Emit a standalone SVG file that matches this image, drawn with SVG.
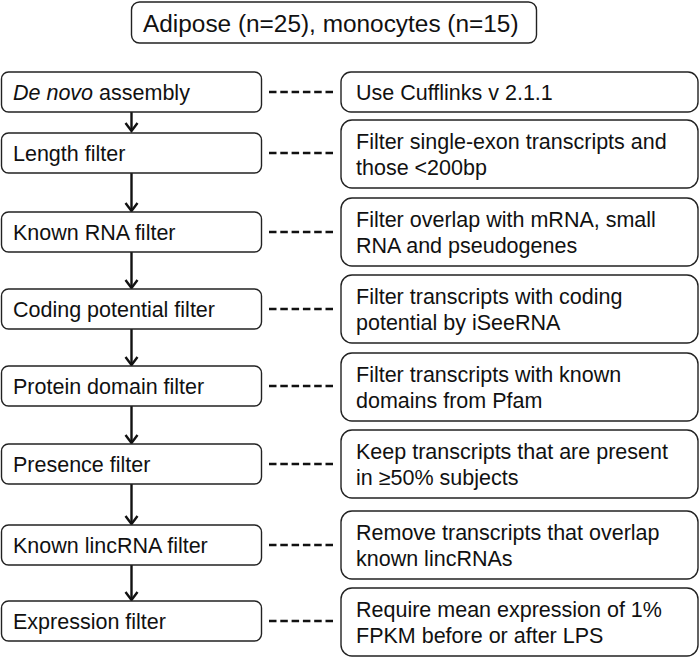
<svg xmlns="http://www.w3.org/2000/svg" width="700" height="658" viewBox="0 0 700 658">
<defs>
<style>
.bx{fill:#fff;stroke:#222;stroke-width:1.4}
.t{font-family:"Liberation Sans",Arial,sans-serif;font-size:21.5px;fill:#111}
.tt{font-family:"Liberation Sans",Arial,sans-serif;font-size:24.4px;fill:#111}
.ar{stroke:#111;stroke-width:2.4;fill:none}
.da{stroke:#111;stroke-width:2.6;stroke-dasharray:7.5 3.8;fill:none}
</style>
<marker id="ah" markerUnits="userSpaceOnUse" markerWidth="12" markerHeight="14" refX="9" refY="7" orient="auto" overflow="visible">
<path d="M1,1 L9,7 L1,13" fill="none" stroke="#111" stroke-width="2.4"/>
</marker>
</defs>
<rect width="700" height="658" fill="#fff"/>

<g id="connectors">
<path class="ar" d="M131.5,112 V131" marker-end="url(#ah)"/>
<path class="ar" d="M131.5,173 V211" marker-end="url(#ah)"/>
<path class="ar" d="M131.5,252 V288" marker-end="url(#ah)"/>
<path class="ar" d="M131.5,329 V365" marker-end="url(#ah)"/>
<path class="ar" d="M131.5,406 V443" marker-end="url(#ah)"/>
<path class="ar" d="M131.5,484 V524" marker-end="url(#ah)"/>
<path class="ar" d="M131.5,565 V600" marker-end="url(#ah)"/>
<path class="da" d="M269,92 H333"/>
<path class="da" d="M269,153 H333"/>
<path class="da" d="M269,232 H333"/>
<path class="da" d="M269,309 H333"/>
<path class="da" d="M269,386 H333"/>
<path class="da" d="M269,464 H333"/>
<path class="da" d="M269,545 H333"/>
<path class="da" d="M269,621 H333"/>
</g>

<g id="top">
<rect class="bx" x="131.5" y="2" width="405" height="41" rx="8"/>
<text class="tt" x="143" y="31.5">Adipose (n=25), monocytes (n=15)</text>
</g>

<g id="s1"><rect class="bx" x="1.5" y="72" width="260" height="40" rx="7"/><text class="t" x="13" y="99.7"><tspan font-style="italic">De novo</tspan> assembly</text></g>
<g id="s2"><rect class="bx" x="1.5" y="133" width="260" height="40" rx="7"/><text class="t" x="13" y="160.7">Length filter</text></g>
<g id="s3"><rect class="bx" x="1.5" y="212" width="260" height="40" rx="7"/><text class="t" x="13" y="239.7">Known RNA filter</text></g>
<g id="s4"><rect class="bx" x="1.5" y="289" width="260" height="40" rx="7"/><text class="t" x="13" y="316.7">Coding potential filter</text></g>
<g id="s5"><rect class="bx" x="1.5" y="366" width="260" height="40" rx="7"/><text class="t" x="13" y="393.7">Protein domain filter</text></g>
<g id="s6"><rect class="bx" x="1.5" y="444" width="260" height="40" rx="7"/><text class="t" x="13" y="471.7">Presence filter</text></g>
<g id="s7"><rect class="bx" x="1.5" y="525" width="260" height="40" rx="7"/><text class="t" x="13" y="552.7">Known lincRNA filter</text></g>
<g id="s8"><rect class="bx" x="1.5" y="601" width="260" height="40" rx="7"/><text class="t" x="13" y="628.7">Expression filter</text></g>

<g id="d1"><rect class="bx" x="341" y="72" width="357" height="40" rx="10"/><text class="t" x="356" y="99.7">Use Cufflinks v 2.1.1</text></g>
<g id="d2"><rect class="bx" x="341" y="120" width="357" height="68" rx="11"/><text class="t" x="356" y="149">Filter single-exon transcripts and</text><text class="t" x="356" y="174.6">those &lt;200bp</text></g>
<g id="d3"><rect class="bx" x="341" y="198" width="357" height="68" rx="11"/><text class="t" x="356" y="227">Filter overlap with mRNA, small</text><text class="t" x="356" y="252.6">RNA and pseudogenes</text></g>
<g id="d4"><rect class="bx" x="341" y="275" width="357" height="68" rx="11"/><text class="t" x="356" y="304">Filter transcripts with coding</text><text class="t" x="356" y="329.6">potential by iSeeRNA</text></g>
<g id="d5"><rect class="bx" x="341" y="353" width="357" height="68" rx="11"/><text class="t" x="356" y="382">Filter transcripts with known</text><text class="t" x="356" y="407.6">domains from Pfam</text></g>
<g id="d6"><rect class="bx" x="341" y="430" width="357" height="68" rx="11"/><text class="t" x="356" y="459">Keep transcripts that are present</text><text class="t" x="356" y="484.6">in ≥50% subjects</text></g>
<g id="d7"><rect class="bx" x="341" y="511" width="357" height="68" rx="11"/><text class="t" x="356" y="540">Remove transcripts that overlap</text><text class="t" x="356" y="565.6">known lincRNAs</text></g>
<g id="d8"><rect class="bx" x="341" y="588" width="357" height="68" rx="11"/><text class="t" x="356" y="617">Require mean expression of 1%</text><text class="t" x="356" y="642.6">FPKM before or after LPS</text></g>
</svg>
